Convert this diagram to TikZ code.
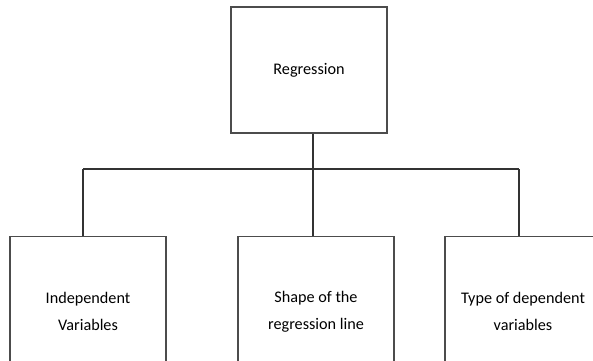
\documentclass[tikz,border=0pt]{standalone}
\usepackage{fontspec}
\setmainfont{Carlito}
\usetikzlibrary{positioning}
\tikzset{
	block/.style={draw=black!70, line width=1.1pt, fill=white, minimum width=156pt, inner sep=0pt, align=center, font=\fontsize{16.2}{27}\selectfont},
	link/.style={draw=black!80, line width=1.1pt}
}
\begin{document}
\begin{tikzpicture}[x=1pt, y=-1pt]
		\useasboundingbox (0,0) rectangle (593,360);
		\clip (0,0) rectangle (593,360);
		\node[block, minimum height=126pt] (reg) at (309,70) {Regression};
		\coordinate (bus) at (313,169);
		\foreach \name/\cx/\dx/\txt in {indep/88/-5/{Independent\\Variables}, shape/316/-3/{Shape of the\\regression line}, dep/523/-4/{Type of dependent\\variables}} {
				\node[block, minimum height=150pt, anchor=north] (\name) at (\cx,236) {\txt};
				\draw[link] ([xshift=\dx pt]\name.north) -- ([xshift=\dx pt]\name.north |- bus);
			}
		\draw[link] (reg.south -| bus) -- (bus);
		\draw[link] ([xshift=-5pt]indep.north |- bus) -- ([xshift=-4pt]dep.north |- bus);
	\end{tikzpicture}
\end{document}
